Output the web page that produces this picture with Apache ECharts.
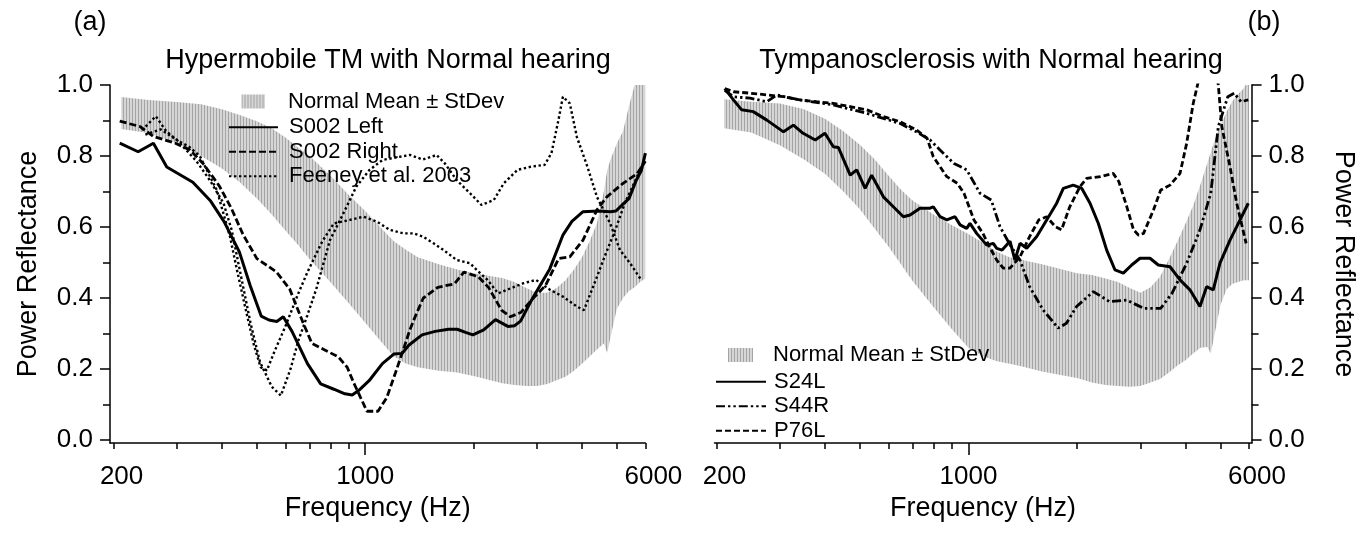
<!DOCTYPE html>
<html>
<head>
<meta charset="utf-8">
<title>Power reflectance</title>
<script src="https://cdn.jsdelivr.net/npm/echarts@6/dist/echarts.min.js"></script>
<style>
  html, body { margin: 0; padding: 0; background: #fff; }
  #chart { width: 1370px; height: 533px; }
</style>
</head>
<body>
<div id="chart"></div>
<script>
// axis ticks (frequency in Hz, reflectance 0..1)
const freqTicks = [200, 300, 400, 500, 600, 700, 800, 900, 1000, 2000, 3000, 4000, 5000, 6000];
const freqLabels = [200, 1000, 6000];
const reflTicks = [0, 0.2, 0.4, 0.6, 0.8, 1.0];
const reflMinorTicks = [0.1, 0.3, 0.5, 0.7, 0.9];

// normal mean +- stdev band, panel (a) and (b)
const normalFreq = [210, 250, 300, 350, 400, 450, 500, 550, 600, 650, 700, 800, 900, 1000, 1100, 1200, 1300, 1400, 1600, 1800, 2000,
  2200, 2400, 2600, 2800, 3000, 3200, 3400, 3600, 3800, 4000, 4200, 4400, 4600, 4700, 4800, 5000, 5200, 5400, 5600, 5800, 6000];
const normalHighA = [0.966, 0.958, 0.952, 0.946, 0.932, 0.915, 0.898, 0.878, 0.852, 0.825, 0.80, 0.745, 0.69, 0.645, 0.60, 0.56, 0.535, 0.515, 0.495, 0.48, 0.47,
  0.463, 0.456, 0.445, 0.428, 0.415, 0.415, 0.428, 0.45, 0.48, 0.515, 0.56, 0.61, 0.70, 0.76, 0.79, 0.835, 0.87, 0.94, 1.0, 1.03, 1.06];
const normalLowA = [0.876, 0.865, 0.835, 0.80, 0.765, 0.725, 0.68, 0.635, 0.59, 0.55, 0.51, 0.445, 0.385, 0.33, 0.28, 0.235, 0.215, 0.205, 0.195, 0.19, 0.18,
  0.17, 0.16, 0.155, 0.152, 0.152, 0.158, 0.168, 0.178, 0.195, 0.215, 0.235, 0.255, 0.272, 0.245, 0.29, 0.37, 0.40, 0.42, 0.43, 0.445, 0.455];
const normalHighB = [0.96, 0.953, 0.948, 0.932, 0.905, 0.87, 0.832, 0.79, 0.745, 0.705, 0.675, 0.635, 0.605, 0.58, 0.555, 0.53, 0.515, 0.508, 0.495, 0.482, 0.47,
  0.465, 0.455, 0.445, 0.428, 0.415, 0.43, 0.46, 0.51, 0.56, 0.61, 0.66, 0.72, 0.78, 0.81, 0.84, 0.885, 0.925, 0.955, 0.975, 0.99, 1.02];
const normalLowB = [0.878, 0.866, 0.83, 0.79, 0.75, 0.70, 0.65, 0.595, 0.545, 0.495, 0.448, 0.375, 0.312, 0.26, 0.235, 0.222, 0.215, 0.208, 0.193, 0.183, 0.175,
  0.162, 0.155, 0.152, 0.15, 0.152, 0.162, 0.172, 0.19, 0.21, 0.225, 0.244, 0.26, 0.262, 0.244, 0.29, 0.38, 0.425, 0.44, 0.445, 0.45, 0.45];

// panel (a) : [Hz, reflectance]
const s002Left = [[208, 0.836], [234, 0.812], [258, 0.836], [281, 0.769], [332, 0.726], [372, 0.673], [405, 0.616], [447, 0.53], [479, 0.435],
  [514, 0.349], [540, 0.338], [568, 0.334], [592, 0.347], [626, 0.306], [691, 0.215], [752, 0.158], [818, 0.143], [878, 0.13], [920, 0.127],
  [960, 0.14], [1025, 0.167], [1116, 0.215], [1200, 0.242], [1266, 0.244], [1321, 0.267], [1438, 0.296], [1564, 0.306], [1702, 0.312],
  [1800, 0.312], [1900, 0.303], [1990, 0.296], [2133, 0.31], [2300, 0.339], [2490, 0.32], [2600, 0.322], [2700, 0.335], [2900, 0.395],
  [3255, 0.482], [3543, 0.578], [3750, 0.616], [4026, 0.643], [4440, 0.645], [4800, 0.643], [4970, 0.645], [5207, 0.665], [5400, 0.68],
  [5650, 0.73], [5850, 0.76], [6000, 0.808]];
const s002Right = [[208, 0.898], [237, 0.883], [258, 0.855], [297, 0.836], [326, 0.817], [355, 0.778], [393, 0.716], [424, 0.654], [458, 0.578],
  [500, 0.511], [533, 0.492], [567, 0.473], [617, 0.425], [672, 0.33], [711, 0.272], [774, 0.253], [842, 0.234], [891, 0.205], [930, 0.16],
  [970, 0.12], [1011, 0.081], [1085, 0.081], [1147, 0.119], [1214, 0.19], [1284, 0.263], [1330, 0.31], [1378, 0.349], [1450, 0.40],
  [1590, 0.43], [1770, 0.44], [1880, 0.473], [2060, 0.46], [2200, 0.43], [2390, 0.366], [2530, 0.347], [2710, 0.36], [2908, 0.396],
  [3166, 0.435], [3445, 0.511], [3700, 0.516], [4026, 0.563], [4400, 0.648], [4690, 0.685], [5200, 0.723], [5690, 0.75], [6000, 0.785]];
const feeneyA = [[240, 0.873], [262, 0.912], [280, 0.87], [300, 0.845], [325, 0.825], [347, 0.80], [387, 0.704], [421, 0.573], [440, 0.48],
  [465, 0.37], [490, 0.27], [512, 0.205], [533, 0.196], [560, 0.25], [600, 0.32], [650, 0.41], [691, 0.473], [760, 0.56], [818, 0.61],
  [907, 0.62], [988, 0.629], [1077, 0.615], [1170, 0.592], [1277, 0.582], [1363, 0.582], [1446, 0.573], [1548, 0.554], [1650, 0.535],
  [1795, 0.507], [1955, 0.498], [2040, 0.479], [2185, 0.451], [2340, 0.413], [2530, 0.427], [2740, 0.441], [2980, 0.451], [3260, 0.423],
  [3540, 0.404], [3870, 0.376], [4050, 0.366], [4330, 0.441], [4620, 0.516], [4950, 0.592], [5260, 0.667], [5630, 0.732], [5860, 0.77], [6000, 0.79]];
const feeneyB = [[245, 0.86], [270, 0.875], [300, 0.845], [340, 0.785], [370, 0.732], [404, 0.667], [426, 0.59], [450, 0.47], [480, 0.33],
  [510, 0.22], [550, 0.15], [583, 0.125], [620, 0.2], [653, 0.282], [690, 0.35], [731, 0.425], [798, 0.563], [870, 0.639], [945, 0.714],
  [1028, 0.761], [1118, 0.789], [1222, 0.796], [1330, 0.803], [1446, 0.79], [1578, 0.803], [1664, 0.779], [1795, 0.732], [1955, 0.695],
  [2103, 0.662], [2276, 0.676], [2425, 0.723], [2650, 0.761], [2890, 0.77], [3150, 0.775], [3290, 0.808], [3440, 0.901], [3540, 0.967],
  [3700, 0.948], [3870, 0.854], [4140, 0.77], [4400, 0.685], [4790, 0.61], [5100, 0.535], [5440, 0.498], [5850, 0.45]];

// panel (b)
const s24L = [[211, 0.99], [223, 0.958], [235, 0.93], [253, 0.925], [276, 0.901], [307, 0.868], [327, 0.887], [348, 0.864], [376, 0.845],
  [400, 0.864], [422, 0.826], [436, 0.824], [470, 0.746], [490, 0.761], [517, 0.709], [539, 0.746], [581, 0.685], [619, 0.657], [660, 0.629],
  [689, 0.634], [734, 0.653], [783, 0.653], [799, 0.657], [834, 0.629], [871, 0.62], [918, 0.629], [948, 0.606], [989, 0.596], [1010, 0.61],
  [1054, 0.582], [1124, 0.549], [1172, 0.554], [1198, 0.54], [1240, 0.535], [1304, 0.56], [1346, 0.507], [1390, 0.554], [1451, 0.54],
  [1547, 0.573], [1648, 0.62], [1757, 0.667], [1833, 0.709], [1953, 0.718], [2061, 0.709], [2174, 0.667], [2293, 0.61], [2418, 0.535],
  [2550, 0.479], [2689, 0.47], [2837, 0.493], [2991, 0.512], [3188, 0.512], [3362, 0.493], [3623, 0.488], [3862, 0.451], [4115, 0.423],
  [4387, 0.376], [4578, 0.432], [4776, 0.423], [4985, 0.498], [5314, 0.563], [5547, 0.601], [5973, 0.667]];
const s44R = [[211, 0.985], [223, 0.967], [248, 0.963], [276, 0.953], [294, 0.972], [341, 0.958], [422, 0.944], [523, 0.92], [581, 0.906],
  [645, 0.892], [718, 0.868], [783, 0.845], [834, 0.817], [912, 0.779], [989, 0.761], [1077, 0.695], [1157, 0.676], [1223, 0.601], [1304, 0.55],
  [1390, 0.507], [1478, 0.432], [1612, 0.366], [1774, 0.315], [1870, 0.329], [1995, 0.376], [2220, 0.418], [2461, 0.39], [2749, 0.394],
  [3061, 0.371], [3414, 0.371], [3668, 0.413], [4030, 0.498], [4387, 0.592], [4700, 0.695], [4932, 0.883], [5240, 0.967], [5460, 0.977],
  [5700, 0.953], [5973, 0.958]];
const p76L = [[211, 0.99], [223, 0.981], [248, 0.977], [276, 0.972], [307, 0.967], [341, 0.958], [379, 0.953], [422, 0.948], [470, 0.939],
  [523, 0.93], [581, 0.911], [645, 0.897], [718, 0.873], [768, 0.85], [799, 0.798], [871, 0.742], [932, 0.723], [972, 0.695], [1036, 0.62],
  [1097, 0.582], [1143, 0.545], [1198, 0.507], [1249, 0.484], [1304, 0.484], [1390, 0.516], [1478, 0.573], [1567, 0.62], [1648, 0.629],
  [1742, 0.601], [1812, 0.592], [1910, 0.657], [2040, 0.714], [2127, 0.737], [2325, 0.742], [2520, 0.751], [2613, 0.728], [2750, 0.657],
  [2870, 0.592], [2965, 0.577], [3060, 0.582], [3260, 0.648], [3414, 0.704], [3623, 0.718], [3862, 0.751], [4030, 0.836], [4202, 0.948],
  [4330, 1.005], [4500, 1.12], [4700, 1.12], [4932, 1.0], [5043, 0.883], [5314, 0.77], [5547, 0.667], [5890, 0.554]];

const FONT = "'Liberation Sans', Arial, sans-serif";
const BLACK = '#000';
const Y_MIN = -3 / 355; // x axis sits a few px under 0.0

// vertical hatching used for the normal band
function makeHatch() {
  const c = document.createElement('canvas');
  c.width = 3;
  c.height = 4;
  const ctx = c.getContext('2d');
  ctx.fillStyle = '#d6d6d6';
  ctx.fillRect(0, 0, 3, 4);
  ctx.fillStyle = '#a4a4a4';
  ctx.fillRect(0, 0, 1, 4);
  return c;
}
const hatchCanvas = makeHatch();
const hatch = () => ({ image: hatchCanvas, repeat: 'repeat' });

const lg = (pts) => pts.map(([f, r]) => [Math.log10(f), r]);

const axisLineStyle = { color: BLACK, width: 1.5 };

function xAxes(gridIndex, min, max) {
  return [
    {
      gridIndex, type: 'value', position: 'bottom', min, max,
      axisLine: { onZero: false, lineStyle: axisLineStyle },
      axisTick: { customValues: freqTicks.map(Math.log10), length: 6, lineStyle: axisLineStyle },
      axisLabel: {
        customValues: freqLabels.map(Math.log10),
        // end labels sit a little right of their ticks in the original
        formatter: (v) => {
          const f = Math.round(Math.pow(10, v));
          return f === 1000 ? String(f) : '{e|' + f + '}';
        },
        rich: { e: { padding: [0, 0, 0, 16], fontSize: 26, color: BLACK, fontFamily: FONT } },
        margin: 21, color: BLACK, fontSize: 26, fontFamily: FONT
      },
      splitLine: { show: false },
      name: 'Frequency (Hz)', nameLocation: 'middle', nameGap: 50,
      nameTextStyle: { color: BLACK, fontSize: 27, fontFamily: FONT }
    },
    {
      // longer tick at 1000 Hz
      gridIndex, type: 'value', position: 'bottom', min, max,
      axisLine: { show: false, onZero: false },
      axisTick: { customValues: [3], length: 12, lineStyle: axisLineStyle },
      axisLabel: { show: false },
      splitLine: { show: false }
    }
  ];
}

function yAxes(gridIndex, position, nameGap, nameRotate) {
  return [
    {
      gridIndex, type: 'value', position, min: Y_MIN, max: 1,
      axisLine: { onZero: false, lineStyle: axisLineStyle },
      axisTick: { customValues: reflTicks, length: 10, lineStyle: axisLineStyle },
      axisLabel: {
        customValues: reflTicks, formatter: (v) => v.toFixed(1),
        margin: 17, color: BLACK, fontSize: 26, fontFamily: FONT
      },
      splitLine: { show: false },
      name: 'Power Reflectance', nameLocation: 'middle', nameGap, nameRotate,
      nameTextStyle: { color: BLACK, fontSize: 27, fontFamily: FONT }
    },
    {
      gridIndex, type: 'value', position, min: Y_MIN, max: 1,
      axisLine: { show: false, onZero: false },
      axisTick: { customValues: reflMinorTicks, length: 7, lineStyle: axisLineStyle },
      axisLabel: { show: false },
      splitLine: { show: false }
    }
  ];
}

// the band is one polygon: upper edge left->right, lower edge back
function band(axisIndex, low, high) {
  return {
    type: 'custom', name: 'Normal Mean ± StDev', xAxisIndex: axisIndex, yAxisIndex: axisIndex,
    z: 1, silent: true, clip: true,
    data: normalFreq.map((f, i) => [Math.log10(f), low[i], high[i]]),
    renderItem: (params, api) => {
      if (params.dataIndex !== 0) return null;
      const upper = normalFreq.map((f, i) => api.coord([Math.log10(f), high[i]]));
      const lower = normalFreq.map((f, i) => api.coord([Math.log10(f), low[i]])).reverse();
      const cs = params.coordSys;
      return {
        type: 'polygon',
        shape: { points: upper.concat(lower) },
        style: { fill: hatch(), stroke: null },
        clipPath: { type: 'rect', shape: { x: cs.x, y: cs.y, width: cs.width, height: cs.height } }
      };
    }
  };
}

function curve(axisIndex, name, pts, type, width) {
  return {
    type: 'line', name, xAxisIndex: axisIndex, yAxisIndex: axisIndex, data: lg(pts),
    symbol: 'none', z: 3,
    lineStyle: { color: BLACK, width, type, cap: 'butt' },
    itemStyle: { color: BLACK }
  };
}

function legends(bandLeft, bandTop, bandW, bandPad, lineLeft, lineTop, lineW, linePad, names) {
  const text = { color: BLACK, fontSize: 22, fontFamily: FONT };
  return [
    {
      orient: 'vertical', left: bandLeft, top: bandTop, padding: 0, itemGap: 0,
      itemWidth: bandW, itemHeight: 14, selectedMode: false,
      data: [{ name: 'Normal Mean ± StDev', icon: 'rect', itemStyle: { color: hatch(), borderWidth: 0 } }],
      textStyle: { ...text, lineHeight: 25, padding: [0, 0, 0, bandPad] }
    },
    {
      orient: 'vertical', left: lineLeft, top: lineTop, padding: 0, itemGap: 0,
      itemWidth: lineW, itemHeight: 14, selectedMode: false,
      // hide the symbol drawn in the middle of line icons
      itemStyle: { color: 'rgba(0,0,0,0)', borderColor: 'rgba(0,0,0,0)', borderWidth: 0, opacity: 0 },
      data: names,
      textStyle: { ...text, lineHeight: 24.5, padding: [0, 0, 0, linePad] }
    }
  ];
}

const chart = echarts.init(document.getElementById('chart'), null, { renderer: 'canvas' });

// panel (a): x axis runs from the y axis line (x=110) to 6000 Hz
const xMinA = Math.log10(200) - 3.6 / 360;
const xMaxA = Math.log10(6000);
// panel (b)
const xMinB = Math.log10(200) - 1.9 / 360.6;
const xMaxB = Math.log10(6000) + 2.6 / 360.6;

chart.setOption({
  animation: false,
  backgroundColor: '#fff',
  textStyle: { fontFamily: FONT },
  grid: [
    { left: 110, top: 85, width: 535.4, height: 358, outerBoundsMode: 'none' },
    { left: 714.5, top: 85, width: 537.1, height: 358, outerBoundsMode: 'none' }
  ],
  xAxis: [...xAxes(0, xMinA, xMaxA), ...xAxes(1, xMinB, xMaxB)],
  yAxis: [...yAxes(0, 'left', 68, 90), ...yAxes(1, 'right', 78, -90)],
  legend: [
    ...legends(241.5, 89, 23.5, 18, 228, 115, 49, 6, ['S002 Left', 'S002 Right', 'Feeney et al. 2003']),
    ...legends(728, 342.5, 25, 15, 715, 369.5, 50, 3, ['S24L', 'S44R', 'P76L'])
  ],
  graphic: [
    { type: 'text', x: 90, y: 23, style: { text: '(a)', font: '27px ' + FONT, fill: BLACK, textAlign: 'center', textVerticalAlign: 'middle' } },
    { type: 'text', x: 1264, y: 23, style: { text: '(b)', font: '27px ' + FONT, fill: BLACK, textAlign: 'center', textVerticalAlign: 'middle' } },
    { type: 'text', x: 388, y: 61, style: { text: 'Hypermobile TM with Normal hearing', font: '27px ' + FONT, fill: BLACK, textAlign: 'center', textVerticalAlign: 'middle' } },
    { type: 'text', x: 991, y: 61, style: { text: 'Tympanosclerosis with Normal hearing', font: '27px ' + FONT, fill: BLACK, textAlign: 'center', textVerticalAlign: 'middle' } }
  ],
  series: [
    band(0, normalLowA, normalHighA),
    curve(0, 'S002 Left', s002Left, 'solid', 3),
    curve(0, 'S002 Right', s002Right, [7, 3], 2.8),
    curve(0, 'Feeney et al. 2003', feeneyA, [2.4, 2.6], 2.4),
    curve(0, 'Feeney et al. 2003', feeneyB, [2.4, 2.6], 2.4),
    band(2, normalLowB, normalHighB),
    curve(2, 'S24L', s24L, 'solid', 3),
    curve(2, 'S44R', s44R, [9, 3, 2.4, 3, 2.4, 3], 2.8),
    curve(2, 'P76L', p76L, [6, 3], 2.8)
  ]
});
</script>
</body>
</html>
